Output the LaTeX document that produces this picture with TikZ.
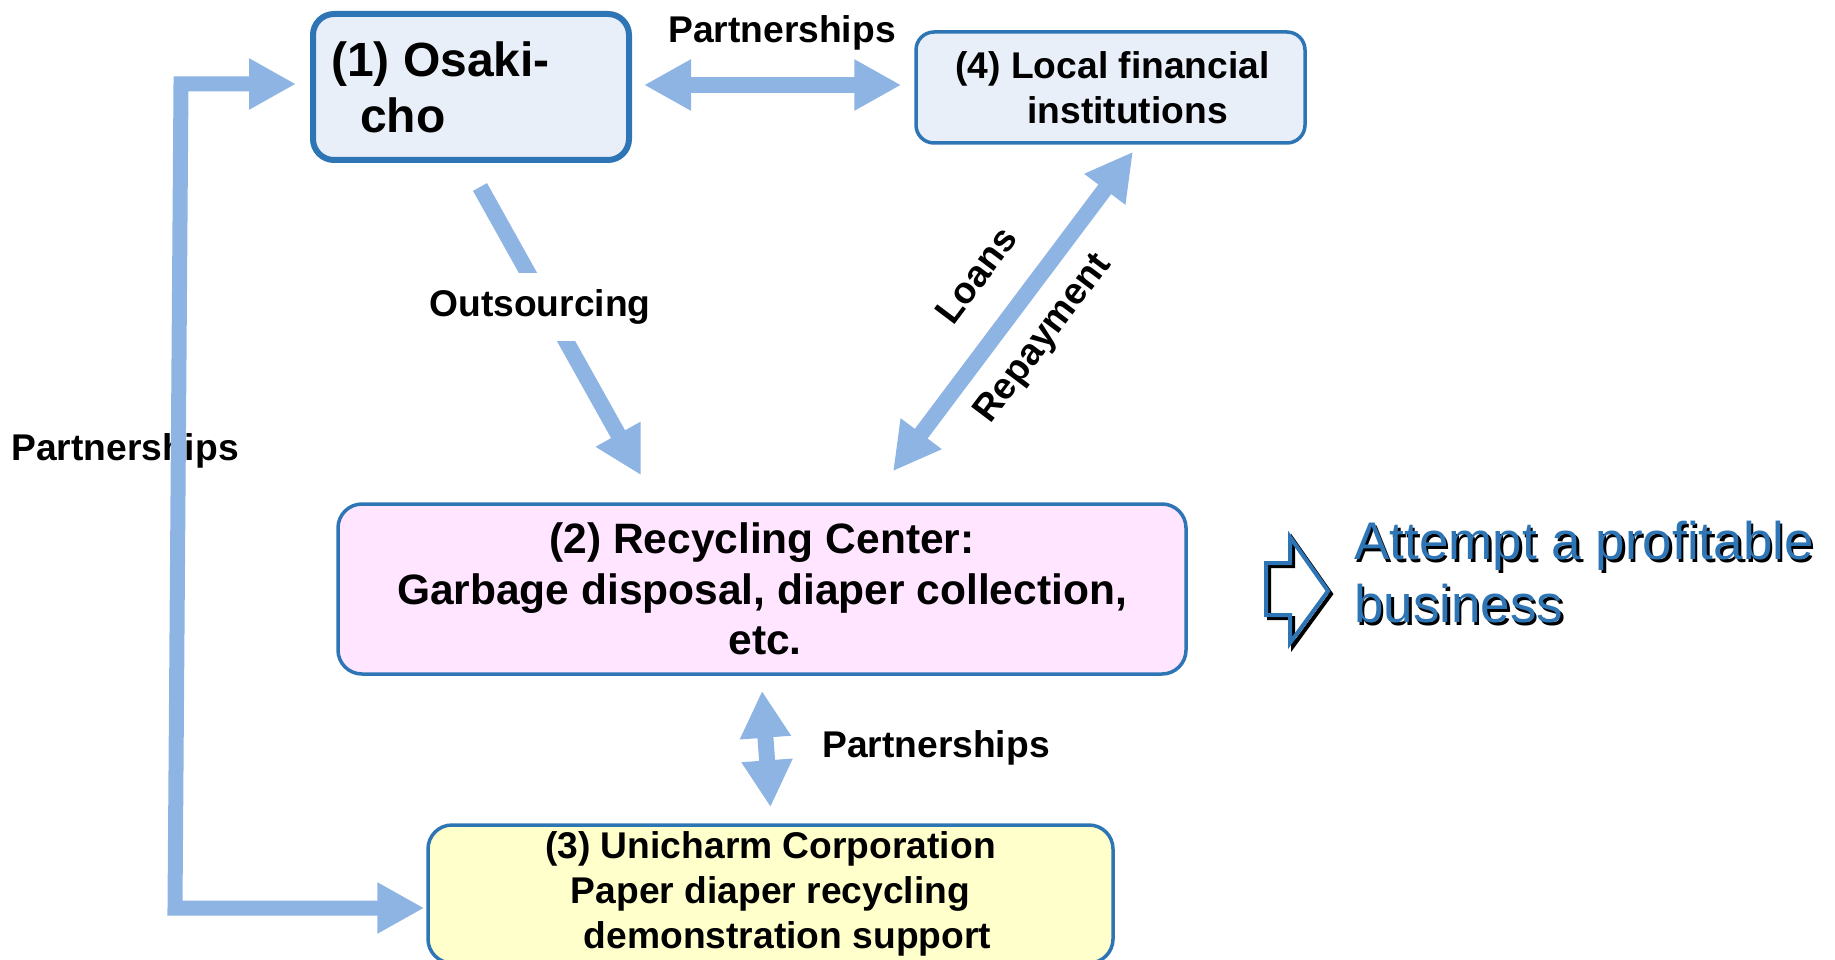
\documentclass[tikz,border=0pt]{standalone}
\usepackage{fontspec}
\setmainfont{Liberation Sans}
\usetikzlibrary{arrows.meta,calc}
\definecolor{arrowblue}{RGB}{142,180,227}
\definecolor{boxblue}{RGB}{46,117,182}
\definecolor{boxfill}{RGB}{233,239,248}
\definecolor{pinkfill}{RGB}{255,229,255}
\definecolor{yellowfill}{RGB}{255,255,204}
\newcommand{\shtext}[1]{\makebox[0pt][l]{\hspace*{2.5pt}\raisebox{-2.5pt}{\color{black}#1}}\textcolor{boxblue}{#1}}
\begin{document}
\begin{tikzpicture}[x=1pt,y=-1pt,
  fatline/.style={draw=arrowblue, line width=16pt, line join=miter},
  onehead/.style={-{Triangle[length=47pt,width=48pt]}},
  twohead/.style={{Triangle[length=47pt,width=48pt]}-{Triangle[length=47pt,width=48pt]}},
  roundbox/.style={draw=boxblue, line width=3.5pt, rounded corners=22pt, inner sep=0pt, align=center},
  boldlabel/.style={font=\bfseries\fontsize{37.2}{44.5}\selectfont, inner sep=0pt},
]
\useasboundingbox (0,0) rectangle (1835,960);

% boxes
\node[roundbox, line width=6pt, fill=boxfill, rounded corners=21pt, minimum width=316pt, minimum height=146pt] (osaki) at (471,87) {};
\node[anchor=base west, align=left, font=\bfseries\fontsize{48}{56}\selectfont, inner sep=0pt] (osakitxt) at (331,133) {(1) Osaki-\\\hspace*{29pt}cho};

\node[roundbox, fill=boxfill, rounded corners=18pt, minimum width=389pt, minimum height=111pt, font=\bfseries\fontsize{37.2}{44.5}\selectfont] (local) at (1110.5,87.5) {\hspace*{4pt}(4) Local financial\\\hspace*{34pt}institutions};

\node[roundbox, fill=pinkfill, rounded corners=24pt, minimum width=848pt, minimum height=170pt, font=\bfseries\fontsize{42.5}{50.5}\selectfont] (recycle) at (762,589) {(2) Recycling Center:\\Garbage disposal, diaper collection,\\\hspace*{6pt}etc.};

\node[roundbox, fill=yellowfill, rounded corners=24pt, minimum width=685pt, minimum height=138pt, font=\bfseries\fontsize{37.2}{45}\selectfont] (unicharm) at (770.5,894) {(3) Unicharm Corporation\\Paper diaper recycling\\\hspace*{34pt}demonstration support};

% arrows
\draw[fatline, twohead] ($(osaki.east)+(12,-2)$) -- ($(local.west)+(-13,-2.5)$);
\node[boldlabel] (ptop) at (782,33) {Partnerships};

\coordinate (outs) at ($(osaki.south)+(9,24)$);
\coordinate (oute) at ($(recycle.north)+(-121,-27)$);
\draw[fatline, onehead] (outs) -- (oute);
\node[boldlabel, fill=white, inner xsep=3pt, inner ysep=17pt] (outsource) at (540,307) {Outsourcing};

\draw[fatline, twohead] ($(recycle.north)+(131,-31)$) -- ($(local.south)+(22.5,7)$);
\node[boldlabel, rotate=53] (loans) at (976,275) {Loans};
\node[boldlabel, rotate=53] (repay) at (1044,339) {Repayment};

\draw[fatline, twohead] ($(recycle.south)+(0,15)$) -- ($(unicharm.north)+(0,-16)$);
\node[boldlabel] (pmid) at (936,748) {Partnerships};

\node[boldlabel] (pleft) at (125,451) {Partnerships};
\coordinate (ltop) at ($(osaki.west)+(-14,-3)$);
\coordinate (lc1) at (181,84);
\coordinate (lc2) at (175,908);
\coordinate (lbot) at ($(unicharm.west)+(-2,14)$);
\draw[fatline, line width=15pt, twohead] (ltop) -- (lc1) -- (lc2) -- (lbot);

% result arrow
\draw[black, line width=4pt, line join=miter, shift={(3,3)}] (1266,563) -- (1290,563) -- (1290,537) -- (1328,591) -- (1290,643) -- (1290,615) -- (1266,615) -- cycle;
\draw[boxblue, line width=4pt, line join=miter] (1266,563) -- (1290,563) -- (1290,537) -- (1328,591) -- (1290,643) -- (1290,615) -- (1266,615) -- cycle;
\node[anchor=north west, align=left, inner sep=0pt, font=\fontsize{53}{63}\selectfont] (attempt) at (1354,521) {\shtext{Attempt a profitable}\\\shtext{business}};
\end{tikzpicture}
\end{document}
